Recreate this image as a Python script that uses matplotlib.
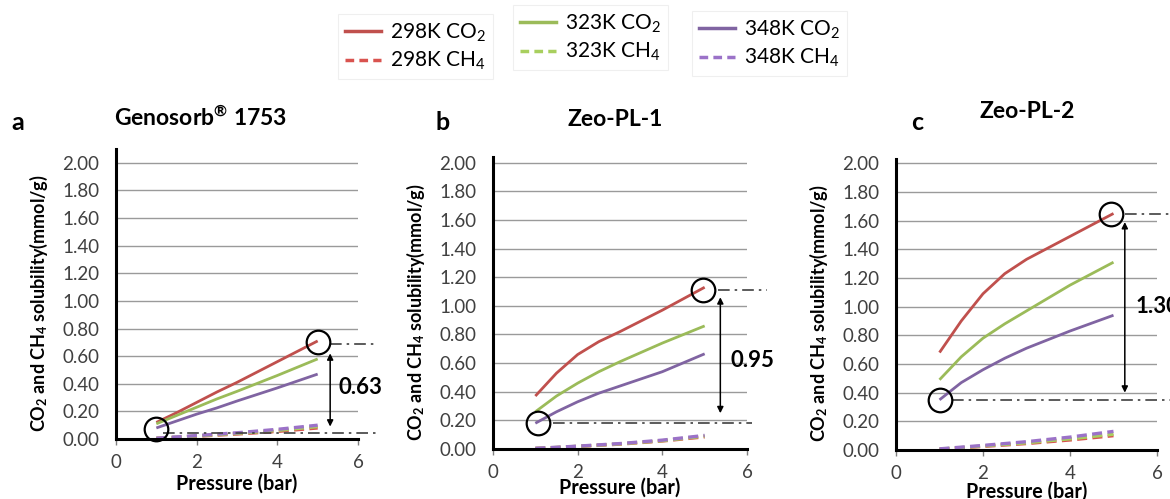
import matplotlib
matplotlib.use('Agg')
import matplotlib.pyplot as plt
from matplotlib.lines import Line2D

plt.rcParams['font.family'] = ['Lato', 'DejaVu Sans']
plt.rcParams['mathtext.fontset'] = 'custom'
plt.rcParams['mathtext.rm'] = 'Lato'
plt.rcParams['mathtext.it'] = 'Lato:italic'
plt.rcParams['mathtext.bf'] = 'Lato:bold'

# ---- data ----
pressure = [1, 1.5, 2, 2.5, 3, 4, 5]

a_co2_298 = [0.12, 0.19, 0.265, 0.34, 0.41, 0.56, 0.71]
a_co2_323 = [0.11, 0.17, 0.23, 0.29, 0.345, 0.46, 0.58]
a_co2_348 = [0.08, 0.13, 0.18, 0.225, 0.275, 0.37, 0.47]
a_ch4_298 = [0.005, 0.012, 0.02, 0.028, 0.036, 0.055, 0.08]
a_ch4_323 = [0.005, 0.013, 0.022, 0.031, 0.040, 0.062, 0.09]
a_ch4_348 = [0.006, 0.015, 0.025, 0.035, 0.045, 0.070, 0.10]

b_co2_298 = [0.37, 0.53, 0.66, 0.75, 0.82, 0.97, 1.13]
b_co2_323 = [0.26, 0.37, 0.46, 0.54, 0.61, 0.74, 0.86]
b_co2_348 = [0.18, 0.26, 0.33, 0.39, 0.44, 0.54, 0.665]
b_ch4_298 = [0.004, 0.010, 0.018, 0.026, 0.034, 0.056, 0.085]
b_ch4_323 = [0.004, 0.011, 0.019, 0.027, 0.036, 0.058, 0.09]
b_ch4_348 = [0.005, 0.012, 0.020, 0.029, 0.038, 0.062, 0.095]

c_co2_298 = [0.68, 0.90, 1.09, 1.23, 1.33, 1.49, 1.65]
c_co2_323 = [0.49, 0.65, 0.78, 0.88, 0.97, 1.15, 1.31]
c_co2_348 = [0.35, 0.47, 0.56, 0.64, 0.71, 0.83, 0.94]
c_ch4_298 = [0.005, 0.015, 0.025, 0.035, 0.045, 0.070, 0.10]
c_ch4_323 = [0.006, 0.017, 0.028, 0.039, 0.050, 0.078, 0.11]
c_ch4_348 = [0.008, 0.020, 0.032, 0.045, 0.058, 0.090, 0.13]

panels = [
    dict(letter='a', title=r'Genosorb$^\mathbf{®}$ 1753',
         co2=[a_co2_298, a_co2_323, a_co2_348], ch4=[a_ch4_298, a_ch4_323, a_ch4_348],
         circ_lo=(1.0, 0.07), circ_hi=(5.0, 0.70),
         hline_hi=(0.69, 5.31, 6.47), hline_lo=(0.045, 1.17, 6.47),
         arrow=(5.31, 0.62, 0.09), gap='0.63', gap_xy=(6.05, 0.37), gap_ha='center'),
    dict(letter='b', title='Zeo-PL-1',
         co2=[b_co2_298, b_co2_323, b_co2_348], ch4=[b_ch4_298, b_ch4_323, b_ch4_348],
         circ_lo=(1.06, 0.18), circ_hi=(4.96, 1.11),
         hline_hi=(1.11, 5.32, 6.48), hline_lo=(0.18, 1.42, 6.12),
         arrow=(5.37, 1.06, 0.25), gap='0.95', gap_xy=(6.12, 0.62), gap_ha='center'),
    dict(letter='c', title='Zeo-PL-2',
         co2=[c_co2_298, c_co2_323, c_co2_348], ch4=[c_ch4_298, c_ch4_323, c_ch4_348],
         circ_lo=(1.01, 0.35), circ_hi=(4.94, 1.645),
         hline_hi=(1.645, 5.26, 6.6), hline_lo=(0.35, 1.29, 6.6),
         arrow=(5.26, 1.59, 0.40), gap='1.30', gap_xy=(5.5, 1.0), gap_ha='left'),
]

co2_colors = ['#C0504D', '#9BBB59', '#8064A2']
ch4_colors = ['#D9534F', '#A8CF5E', '#9B72C8']
temps = ['298K', '323K', '348K']

W, H = 1170, 499
fig = plt.figure(figsize=(W / 100, H / 100), dpi=100)

# axes boxes in pixels: left, right, bottom, top, ymax
boxes = [(116, 358, 439, 149, 2.10), (493, 747, 449, 157, 2.04), (896, 1157, 450, 159, 2.03)]
letter_pos = [(18, 122), (443, 122), (917, 123)]
title_pos = [(201, 118), (615, 120), (1027, 112)]
xlabel_y = [484, 488, 492]

for p, box, lp, tp, xly in zip(panels, boxes, letter_pos, title_pos, xlabel_y):
    l, r, b, t, ymax = box
    ax = fig.add_axes([l / W, 1 - b / H, (r - l) / W, (b - t) / H])
    ax.set_xlim(0, 6)
    ax.set_ylim(0, ymax)
    for s in ['top', 'right']:
        ax.spines[s].set_visible(False)
    for s in ['left', 'bottom']:
        ax.spines[s].set_linewidth(2.2)
        ax.spines[s].set_color('black')
    ax.set_yticks([i * 0.2 for i in range(11)])
    ax.set_yticklabels([f'{i * 0.2:.2f}' for i in range(11)])
    ax.set_xticks([0, 2, 4, 6])
    ax.tick_params(axis='y', length=0, pad=12, labelsize=13.5, labelcolor='#404040')
    ax.tick_params(axis='x', length=4, width=1, color='#808080', direction='out', pad=7,
                   labelsize=13.5, labelcolor='#404040')
    ax.grid(axis='y', color='#9a9a9a', lw=1)
    ax.set_axisbelow(True)

    for ys, c in zip(p['co2'], co2_colors):
        ax.plot(pressure, ys, color=c, lw=2.0, solid_capstyle='butt', solid_joinstyle='round')
    for ys, c in zip(p['ch4'], ch4_colors):
        ax.plot(pressure, ys, color=c, lw=2.4, ls=(0, (3, 1.6)))

    for cx, cy in [p['circ_lo'], p['circ_hi']]:
        ax.plot([cx], [cy], marker='o', ms=17, mfc='none', mec='black', mew=1.6,
                clip_on=False, zorder=5)
    for yv, x0, x1 in [p['hline_hi'], p['hline_lo']]:
        ax.plot([x0, x1], [yv, yv], color='#404040', lw=1.2, ls=(0, (7, 3, 1.5, 3)),
                clip_on=False)
    axx, ay0, ay1 = p['arrow']
    ax.annotate('', xy=(axx, ay1), xytext=(axx, ay0),
                arrowprops=dict(arrowstyle='<|-|>', color='black', lw=1.1,
                                mutation_scale=9, shrinkA=0, shrinkB=0),
                annotation_clip=False)
    ax.text(p['gap_xy'][0], p['gap_xy'][1], p['gap'], fontsize=16, fontweight='bold',
            ha=p['gap_ha'], va='center', clip_on=False)

    ax.set_ylabel(r'CO$_\mathbf{2}$ and CH$_\mathbf{4}$ solubility(mmol/g)',
                  fontsize=13, fontweight='bold')
    ax.yaxis.set_label_coords(-66 / (r - l), 0.47)
    fig.text(((l + r) / 2) / W, 1 - xly / H, 'Pressure (bar)', fontsize=14.2,
             fontweight='bold', ha='center', va='center')
    fig.text(lp[0] / W, 1 - lp[1] / H, p['letter'], fontsize=18, fontweight='bold',
             ha='center', va='center')
    fig.text(tp[0] / W, 1 - tp[1] / H, p['title'], fontsize=16.5, fontweight='bold',
             ha='center', va='center')

# ---- legend: three groups of two entries ----
leg_pos = [(338, 14), (513, 5), (692, 11)]
for i, (lx, ly) in enumerate(leg_pos):
    handles = [Line2D([], [], color=co2_colors[i], lw=2.5),
               Line2D([], [], color=ch4_colors[i], lw=2.5, ls=(0, (2.5, 1.5)))]
    labels = [f'{temps[i]} CO$_2$', f'{temps[i]} CH$_4$']
    leg = fig.legend(handles, labels, loc='upper left', bbox_to_anchor=(lx / W, 1 - ly / H),
                     fontsize=15, frameon=True, fancybox=False, edgecolor='#ececec',
                     handlelength=1.7, handletextpad=0.45, labelspacing=0.3,
                     borderpad=0.35, borderaxespad=0)
    leg.get_frame().set_linewidth(0.8)

fig.savefig('out.png', dpi=100)
